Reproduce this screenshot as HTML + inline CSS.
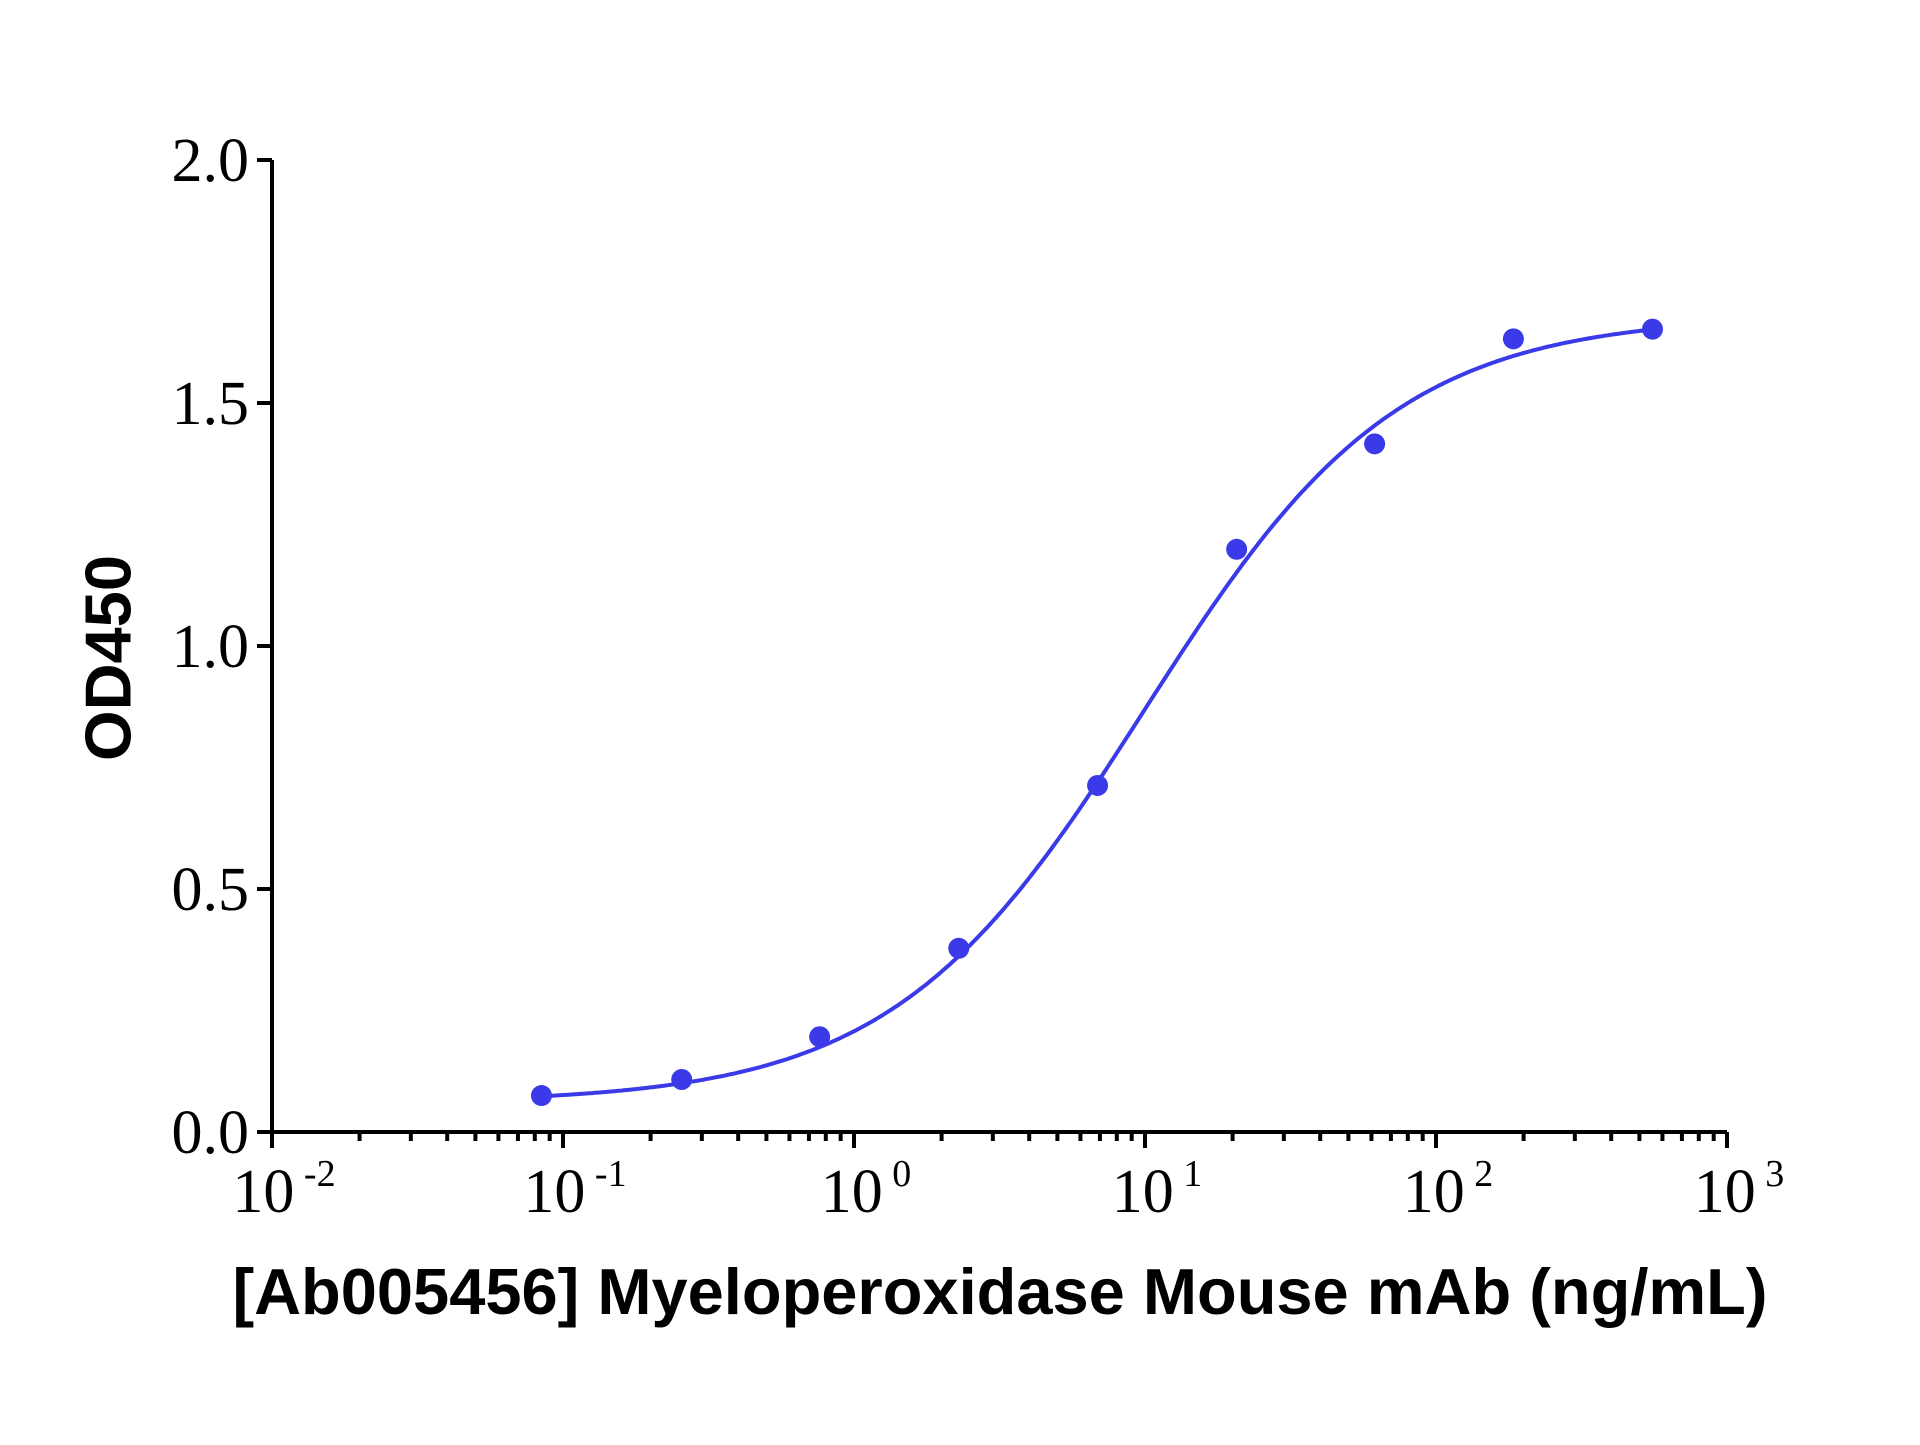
<!DOCTYPE html>
<html><head><style>body{margin:0;background:#fff}</style></head><body>
<svg id="s" width="1920" height="1440" xmlns="http://www.w3.org/2000/svg">
<rect width="1920" height="1440" fill="#fff"/>
<g id="ax" stroke="#000" stroke-width="4" fill="none"></g>
<g id="lab" font-family="Liberation Serif, serif" font-size="62" fill="#000"></g>
<path id="curve" fill="none" stroke="#3a3ae8" stroke-width="4"/>
<g id="pts" fill="#3a3ae8"></g>
<text x="108" y="658" transform="rotate(-90 108 658)" text-anchor="middle" dominant-baseline="central" font-family="Liberation Sans, sans-serif" font-weight="bold" font-size="65">OD450</text>
<text x="1000" y="1314" text-anchor="middle" font-family="Liberation Sans, sans-serif" font-weight="bold" font-size="65">[Ab005456] Myeloperoxidase Mouse mAb (ng/mL)</text>
</svg>
<script>
const NS="http://www.w3.org/2000/svg";
const X=l=>272+(l+2)*291, Y=v=>1132-v*486;
const ax=document.getElementById('ax'), lab=document.getElementById('lab');
function line(x1,y1,x2,y2){const e=document.createElementNS(NS,'line');e.setAttribute('x1',x1);e.setAttribute('y1',y1);e.setAttribute('x2',x2);e.setAttribute('y2',y2);ax.appendChild(e);}
line(272,160,272,1134);line(270,1132,1727,1132);
for(let i=0;i<=4;i++){const y=Y(i*0.5);line(257,y,272,y);
 const t=document.createElementNS(NS,'text');t.setAttribute('x',249);t.setAttribute('y',y+21);t.setAttribute('text-anchor','end');t.textContent=(i*0.5).toFixed(1);lab.appendChild(t);}
for(let d=-2;d<=3;d++){const x=X(d);line(x,1132,x,1148);
 const t=document.createElementNS(NS,'text');t.setAttribute('x',x+12);t.setAttribute('y',1212);t.setAttribute('text-anchor','middle');
 t.innerHTML='10<tspan font-size="38" dy="-26"> '+(d<0?'-'+(-d):d)+'</tspan>';lab.appendChild(t);
 if(d<3)for(let m=2;m<=9;m++){const xm=X(d+Math.log10(m));line(xm,1132,xm,1141);}}
let p='';for(let l=-1.07;l<=2.75;l+=0.01){const v=0.06+1.62/(1+Math.pow(10,1.0-l));p+=(p?'L':'M')+X(l).toFixed(1)+','+Y(v).toFixed(1);}
document.getElementById('curve').setAttribute('d',p);
const data=[[-1.074,0.075],[-0.592,0.108],[-0.118,0.196],[0.360,0.378],[0.837,0.713],[1.315,1.199],[1.789,1.416],[2.266,1.632],[2.744,1.652]];
const g=document.getElementById('pts');
data.forEach(([l,v])=>{const c=document.createElementNS(NS,'circle');c.setAttribute('cx',X(l));c.setAttribute('cy',Y(v));c.setAttribute('r',10.5);g.appendChild(c);});
</script>
</body></html>
